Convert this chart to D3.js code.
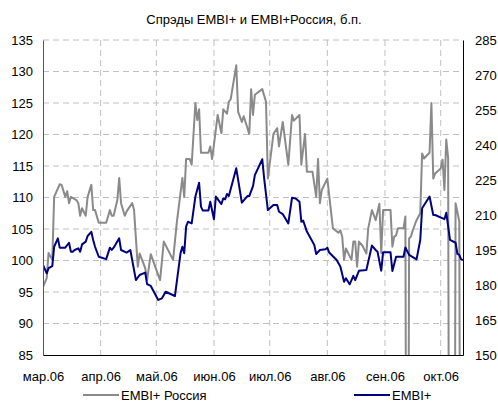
<!DOCTYPE html>
<html>
<head>
<meta charset="utf-8">
<script src="https://cdn.jsdelivr.net/npm/d3@7.9.0/dist/d3.min.js"></script>
<style>
  body { margin: 0; background: #fff; }
  svg text { font-family: Arial, "Liberation Sans", sans-serif; fill: #000; }
</style>
</head>
<body>
<div id="chart"></div>
<script>
// days counted from 1 March 2006
const russiaDays = [0,2,3,5,6,9,10,12,13,14,15,18,19,20,21,23,24,26,27,28,30,34,36,37,38,40,41,42,44,45,48,49,51,52,54,55,56,57,58,61,63,65,70,72,75,76,77,79,80,82,83,84,85,89,90,91,94,96,97,99,100,101,104,105,107,108,111,112,113,114,118,120,121,124,126,127,129,132,134,135,138,139,141,142,145,147,148,149,150,153,156,159,160,161,162,163,165,166,167,168,169,170,172,174,175,177,179,181,182,183,187,188,189,190,191,194,195,196,197,198,199,201,203,204,205,208,209,210,211,214,215,216,217,218,219,221,222,224,225,226];
const russiaVals = [95.8,97.2,101.2,100.1,110.1,112.1,112,110.1,111,109.1,110.1,109.6,109.1,107.1,108.3,107.1,110.1,112,108,108,106,106,108,107.1,107.1,109.6,113.1,109.1,107.1,107.8,109.1,108,99,101.1,99.6,98.8,96.9,99,101,98.5,96.9,103,100.1,106,113.1,110.1,116.1,116.1,115.2,125,122.3,124,117.1,117.1,118.1,116.1,123.1,120.2,124,123.3,125.2,125.6,131,123.6,122,122.9,120.1,127.2,123.1,126.3,127.2,125.2,113,120.1,121,118.1,122,115.2,123.1,122.2,123.1,115.2,120.1,114.1,114.1,110.1,116.1,109.1,111.2,113,105.1,104.4,104.8,103.8,100.1,101.9,100.7,100.1,103,103,99,103,102.3,101.1,105.1,108,106.4,109,101.2,108,108,102.2,103.8,104,105.1,105.1,107,0,103.5,103.8,104.8,106.4,107.5,117,116.2,117.1,125,113,113.8,114.6,116,111.2,119.2,116.2,0,0,109.1,106.2,0,0];

const embiDays = [0,2,3,5,6,8,9,12,14,15,16,17,19,20,21,23,24,26,27,28,30,34,36,37,38,41,42,45,47,50,52,55,56,58,62,64,66,71,74,75,76,77,78,80,82,84,85,86,89,90,92,93,95,96,97,98,99,100,104,107,110,111,113,114,118,119,121,124,126,127,129,132,134,136,138,139,140,142,144,146,147,149,152,153,154,158,160,162,163,165,167,168,170,174,177,179,180,182,183,187,188,190,194,195,197,201,203,204,208,210,211,216,217,219,222,223,224,225,226];
const embiVals = [188.6,185,187.2,188.1,196.4,200,196,196,198.1,194.3,194.3,195,195.7,194.3,197.4,198.6,201,202.8,199.3,196.4,192.1,191.1,196,195,196,200,195,193.9,195,182.1,184.3,185.3,180.4,179.6,173.6,174.3,177.1,175.3,193.6,196.4,193.6,205,207.1,206.4,217.9,223.8,213.6,211.9,211.9,215.7,208.2,217.9,215.7,214.7,217.1,216.7,219,218.1,230,215.3,218.1,218.1,222.4,227.1,233.9,225.7,212.1,214.3,214.3,211.4,210.4,206.4,217.4,217.1,215.7,207.1,207.6,202.9,200,197.1,193.3,195,195.3,196,193.9,190.7,187.9,181.4,182.9,180.3,183.9,182.1,186.1,186.4,196.9,195,194.3,186.1,194,194,186,192.1,192.1,196.1,192.9,191,199.3,212.9,217.9,210,210,208.2,211,199.3,198.1,193.3,192.9,191,190.7];

const monthStarts = ["2006-03-01","2006-04-01","2006-05-01","2006-06-01","2006-07-01","2006-08-01","2006-09-01","2006-10-01"];
const monthLabels = ["мар.06","апр.06","май.06","июн.06","июл.06","авг.06","сен.06","окт.06"];
const leftTicks = [85,90,95,100,105,110,115,120,125,130,135];
const rightTicks = [150,165,180,195,210,225,240,255,270,285];

const W = 498, H = 403;
const margin = { top: 40, right: 35, bottom: 48, left: 43 };
const width = W - margin.left - margin.right;
const height = H - margin.top - margin.bottom;

const start = new Date(2006, 2, 1);
const toDate = (d) => d3.timeDay.offset(start, d);
const parse = d3.timeParse("%Y-%m-%d");

const russia = russiaDays.map((d, i) => ({ date: toDate(d), value: russiaVals[i] }));
const embi = embiDays.map((d, i) => ({ date: toDate(d), value: embiVals[i] }));

const x = d3.scaleTime().domain([start, toDate(226)]).range([0, width]);
const yL = d3.scaleLinear().domain([85, 135]).range([height, 0]);
const yR = d3.scaleLinear().domain([150, 285]).range([height, 0]);

const svg = d3.select("#chart").append("svg").attr("width", W).attr("height", H);

svg.append("text")
  .attr("x", 254).attr("y", 23.5)
  .attr("text-anchor", "middle")
  .style("font-size", "13px")
  .text("Спрэды EMBI+ и EMBI+Россия, б.п.");

const g = svg.append("g").attr("transform", `translate(${margin.left},${margin.top})`);

g.append("clipPath").attr("id", "plot")
  .append("rect").attr("width", width).attr("height", height);

// horizontal grid
g.append("g").selectAll("line")
  .data(leftTicks.slice(1))
  .join("line")
  .attr("x1", 0).attr("x2", width)
  .attr("y1", (d) => yL(d)).attr("y2", (d) => yL(d))
  .attr("stroke", "#c0c0c0").attr("stroke-dasharray", "6,4");

// vertical grid
g.append("g").selectAll("line")
  .data(monthStarts.slice(1).map(parse))
  .join("line")
  .attr("x1", (d) => x(d)).attr("x2", (d) => x(d))
  .attr("y1", 0).attr("y2", height)
  .attr("stroke", "#c0c0c0").attr("stroke-dasharray", "6,4");

const line = (y) => d3.line().x((d) => x(d.date)).y((d) => y(d.value));

g.append("path").datum(russia)
  .attr("clip-path", "url(#plot)")
  .attr("fill", "none").attr("stroke", "#8a8a8a").attr("stroke-width", 2)
  .attr("stroke-linejoin", "round")
  .attr("d", line(yL));

g.append("path").datum(embi)
  .attr("clip-path", "url(#plot)")
  .attr("fill", "none").attr("stroke", "#000080").attr("stroke-width", 2)
  .attr("stroke-linejoin", "round")
  .attr("d", line(yR));

// axes
const axL = g.append("g")
  .call(d3.axisLeft(yL).tickValues(leftTicks).tickSize(0).tickPadding(10));
axL.select(".domain").attr("stroke", "#555");

const axR = g.append("g").attr("transform", `translate(${width},0)`)
  .call(d3.axisRight(yR).tickValues(rightTicks).tickSize(0).tickPadding(12));
axR.select(".domain").attr("stroke", "#000");

const axB = g.append("g").attr("transform", `translate(0,${height})`)
  .call(d3.axisBottom(x).tickValues(monthStarts.map(parse))
    .tickFormat((d, i) => monthLabels[i]).tickSize(0).tickPadding(17));
axB.select(".domain").attr("stroke", "#000");

svg.selectAll(".tick text").style("font-size", "13px").attr("fill", "#000");

// legend
const legend = [
  { name: "EMBI+ Россия", color: "#8a8a8a", x: 83 },
  { name: "EMBI+", color: "#000080", x: 354 }
];
const lg = svg.append("g").selectAll("g").data(legend).join("g")
  .attr("transform", (d) => `translate(${d.x},395)`);
lg.append("line").attr("x1", 0).attr("x2", 36)
  .attr("stroke", (d) => d.color).attr("stroke-width", 2);
lg.append("text").attr("x", 38).attr("y", 4.5)
  .style("font-size", "13px").text((d) => d.name);
</script>
</body>
</html>
